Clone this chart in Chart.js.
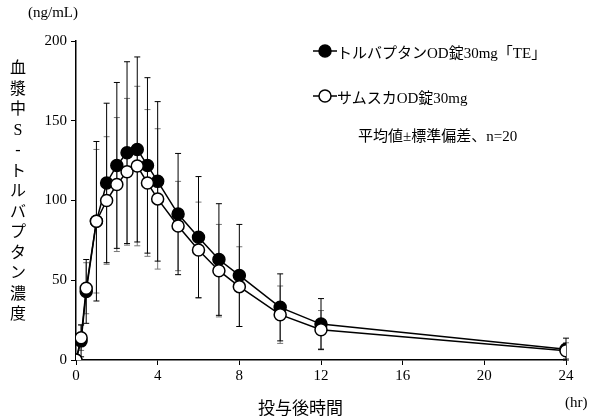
<!DOCTYPE html>
<html><head><meta charset="utf-8">
<script src="https://cdn.jsdelivr.net/npm/chart.js@4"></script>
<style>
body{margin:0;background:#fff;font-family:"Liberation Serif","Noto Sans CJK JP",serif;}
#wrap{position:relative;width:600px;height:419px;}
.t{position:absolute;color:#000;font-size:15px;white-space:nowrap;}
#ylab{left:8px;top:58px;width:20px;text-align:center;line-height:20.5px;font-size:16px;}
</style></head><body>
<div id="wrap">
<canvas id="c" width="600" height="419"></canvas>
<div class="t" style="left:28px;top:4px;">(ng/mL)</div>
<div class="t" id="ylab">血<br>漿<br>中<br>S<br>-<br>ト<br>ル<br>バ<br>プ<br>タ<br>ン<br>濃<br>度</div>
<div class="t" style="left:258px;top:394px;font-size:17px;">投与後時間</div>
<div class="t" style="left:565px;top:394px;">(hr)</div>
<div class="t" style="left:337px;top:41px;">トルバプタンOD錠30mg「TE」</div>
<div class="t" style="left:337px;top:86px;">サムスカOD錠30mg</div>
<div class="t" style="left:358px;top:124px;">平均値±標準偏差、n=20</div>
</div>
<script>
const times = [0, 0.25, 0.5, 1, 1.5, 2, 2.5, 3, 3.5, 4, 5, 6, 7, 8, 10, 12, 24];
const teMean = [0, 12, 43, 87, 111, 122, 130, 132, 122, 112, 91.5, 77, 63, 53, 33, 22.5, 6.7];
const teSD = [0, 10, 20, 50, 50, 52, 57, 58, 55, 50, 38, 38, 35, 32, 21, 16, 7];
const samMean = [0, 14, 45, 87, 100, 110, 118, 121.6, 111, 101, 84, 69, 56, 46, 28.4, 19, 5.8];
const samSD = [0, 8, 16, 45, 40, 42, 46, 50, 46, 44, 28, 30, 29, 25, 18, 12, 5];
const xTicks = [0, 4, 8, 12, 16, 20, 24];

const errBars = {
  id: 'errBars',
  beforeDatasetsDraw(chart) {
    const {ctx, scales: {x, y}} = chart;
    const sets = [[samMean, samSD, '#777'], [teMean, teSD, '#000']];
    ctx.save();
    ctx.lineWidth = 1;
    sets.forEach(([m, sd, col]) => {
      ctx.strokeStyle = col;
      times.forEach((t, i) => {
        if (!sd[i]) return;
        const px = x.getPixelForValue(t);
        const y1 = y.getPixelForValue(Math.max(0, m[i] - sd[i]));
        const y2 = y.getPixelForValue(m[i] + sd[i]);
        ctx.beginPath();
        ctx.moveTo(px, y1); ctx.lineTo(px, y2);
        ctx.moveTo(px - 3, y1); ctx.lineTo(px + 3, y1);
        ctx.moveTo(px - 3, y2); ctx.lineTo(px + 3, y2);
        ctx.stroke();
      });
    });
    ctx.restore();
  },
  afterDraw(chart) {
    const ctx = chart.ctx;
    ctx.save();
    ctx.strokeStyle = '#000'; ctx.lineWidth = 1.5;
    [[51, '#000'], [96, '#fff']].forEach(([yy, fill]) => {
      ctx.beginPath(); ctx.moveTo(313, yy); ctx.lineTo(337, yy); ctx.stroke();
      ctx.beginPath(); ctx.arc(325, yy, 6, 0, Math.PI * 2);
      ctx.fillStyle = fill; ctx.fill(); ctx.stroke();
    });
    ctx.restore();
  }
};

const pts = arr => times.map((t, i) => ({x: t, y: arr[i]}));

new Chart(document.getElementById('c'), {
  type: 'line',
  data: {
    datasets: [
      { data: pts(samMean), borderColor: '#000', backgroundColor: '#fff', pointBackgroundColor: '#fff',
        pointBorderColor: '#000', borderWidth: 1.5, pointRadius: 6, pointBorderWidth: 1.5 },
      { data: pts(teMean), borderColor: '#000', backgroundColor: '#000', pointBackgroundColor: '#000',
        pointBorderColor: '#000', borderWidth: 1.5, pointRadius: 6, pointBorderWidth: 1.5 }
    ]
  },
  options: {
    responsive: false, animation: false,
    layout: { padding: { left: 20, right: 34, top: 41, bottom: 0 } },
    plugins: { legend: { display: false }, tooltip: { enabled: false } },
    scales: {
      x: {
        type: 'linear', min: 0, max: 24,
        afterBuildTicks: s => { s.ticks = xTicks.map(v => ({value: v})); },
        afterFit: s => { s.height = 59; },
        grid: { drawOnChartArea: false, color: '#000', tickLength: 5 },
        border: { color: '#000', width: 1.5 },
        ticks: { color: '#000', font: { family: 'Liberation Serif', size: 15 }, padding: 2 }
      },
      y: {
        min: 0, max: 200,
        afterFit: s => { s.width = 56; },
        grid: { drawOnChartArea: false, color: '#000', tickLength: 5 },
        border: { color: '#000', width: 1.5 },
        ticks: { stepSize: 50, color: '#000', font: { family: 'Liberation Serif', size: 15 }, padding: 4 }
      }
    }
  },
  plugins: [errBars]
});
</script>
</body></html>
